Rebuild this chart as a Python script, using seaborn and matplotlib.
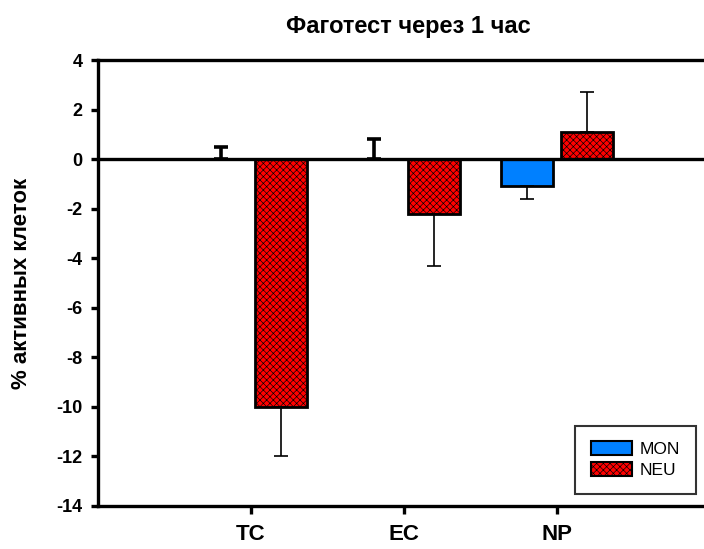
import seaborn as sns
import matplotlib.pyplot as plt
import pandas as pd
from matplotlib.patches import Patch

# Data
categories = ['TC', 'EC', 'NP']
series = ['MON', 'NEU']
mon_values = [0.0, 0.0, -1.1]
neu_values = [-10.0, -2.2, 1.1]
mon_err = [0.5, 0.8, 0.5]
neu_err = [2.0, 2.1, 1.6]

df = pd.DataFrame({
    'Group': categories * 2,
    'Value': mon_values + neu_values,
    'Cell': [series[0]] * len(categories) + [series[1]] * len(categories),
})

sns.set_style('white')
plt.rcParams['font.family'] = ['Liberation Sans', 'DejaVu Sans']
plt.rcParams['hatch.linewidth'] = 0.45
plt.rcParams['axes.unicode_minus'] = False
for key in ['text.color', 'axes.labelcolor', 'xtick.color', 'ytick.color']:
    plt.rcParams[key] = 'black'

colors = ['#0080ff', '#ff0000']

fig = plt.figure(figsize=(7.04, 5.49), dpi=100)
ax = fig.add_axes([98 / 704, 43 / 549, 612 / 704, 446 / 549])

sns.barplot(data=df, x='Group', y='Value', hue='Cell', order=categories,
            hue_order=series, palette=colors, width=0.78, gap=0.13,
            errorbar=None, edgecolor='black', linewidth=2, saturation=1,
            legend=False, ax=ax)

# hatch on NEU bars
for bar in ax.containers[1]:
    bar.set_hatch('xxxxx')

# one-sided error bars, pointing away from zero
for cont, vals, errs in zip(ax.containers, [mon_values, neu_values], [mon_err, neu_err]):
    for bar, v, e in zip(cont, vals, errs):
        xc = bar.get_x() + bar.get_width() / 2
        lo, hi = (e, 0) if v < 0 else (0, e)
        lw = 2.6 if v == 0 else 1.2
        ax.errorbar(xc, v, yerr=[[lo], [hi]], fmt='none', ecolor='black',
                    elinewidth=lw, capsize=5, capthick=lw, zorder=1)

ax.axhline(0, color='black', lw=2.4, zorder=3)

ax.set_xlim(-1, 3)
ax.set_ylim(-14, 4)
ax.set_yticks(range(-14, 5, 2))

for side in ['left', 'top', 'bottom']:
    ax.spines[side].set_linewidth(2.4)
    ax.spines[side].set_color('black')
ax.spines['right'].set_visible(False)

ax.tick_params(axis='y', direction='out', length=5, width=2.4, pad=6,
               labelsize=13, left=True)
ax.tick_params(axis='x', direction='out', length=6, width=2.4, pad=7,
               labelsize=16, bottom=True)
for lab in ax.get_yticklabels() + ax.get_xticklabels():
    lab.set_fontweight('bold')

ax.set_xlabel('')
ax.set_ylabel('% активных клеток', fontsize=16, fontweight='bold')
ax.yaxis.set_label_coords((32 - 98) / 612, 0.5)
ax.set_title('Фаготест через 1 час', fontsize=17, fontweight='bold', pad=19.5,
             x=(408.5 - 98) / 612)

handles = [Patch(facecolor=colors[0], edgecolor='black', linewidth=1.5, label=series[0]),
           Patch(facecolor=colors[1], edgecolor='black', linewidth=1.5, hatch='xxxxx', label=series[1])]
leg = fig.legend(handles=handles, loc='lower right', bbox_to_anchor=(696 / 704, 1 - 494 / 549),
                 fontsize=12.5, frameon=True, fancybox=False, edgecolor='black',
                 handlelength=2.4, handleheight=0.85, labelspacing=0.3,
                 borderpad=0.9, handletextpad=0.45, borderaxespad=0)
leg.get_frame().set_linewidth(1.5)

fig.savefig('out.png', dpi=100)
